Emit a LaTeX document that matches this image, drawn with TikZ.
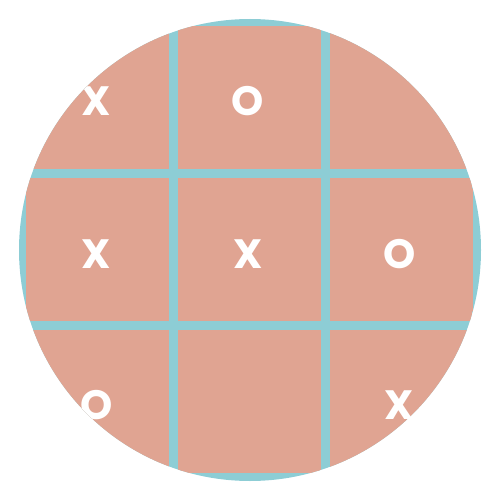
\documentclass[tikz,border=0pt]{standalone}
\usepackage{fontspec}
\setmainfont{Poppins}
\definecolor{gridblue}{HTML}{8DCDD5}
\definecolor{salmon}{HTML}{E0A492}
\tikzset{
  cell/.style={fill=salmon, draw=none, minimum size=142.5pt, inner sep=0pt, outer sep=0pt},
  mark/.append style={},
  sym/.style={text=white, font=\fontsize{41}{41}\selectfont\bfseries, inner sep=0pt, anchor=base}
}
\begin{document}
\begin{tikzpicture}[x=1pt,y=-1pt]
\useasboundingbox (0,0) rectangle (500,500);
\fill[gridblue] (250,250) circle (231);
\begin{scope}
\clip (250,250) circle (231);
\node[cell] (c11) at (97.25,97.25) {};
\node[cell] (c12) at (249.25,97.25) {};
\node[cell] (c13) at (401.25,97.25) {};
\node[cell] (c21) at (97.25,249.25) {};
\node[cell] (c22) at (249.25,249.25) {};
\node[cell] (c23) at (401.25,249.25) {};
\node[cell] (c31) at (97.25,401.25) {};
\node[cell] (c32) at (249.25,401.25) {};
\node[cell] (c33) at (401.25,401.25) {};
\node[sym] (t11) at (96.5,116) {X};
\node[sym] (t12) at (248,116) {O};
\node[sym] (t21) at (96.5,268) {X};
\node[sym] (t22) at (248,268) {X};
\node[sym] (t23) at (399.5,268) {O};
\node[sym] (t31) at (96.5,419) {O};
\node[sym] (t33) at (399.5,419) {X};
\end{scope}
\end{tikzpicture}
\end{document}
